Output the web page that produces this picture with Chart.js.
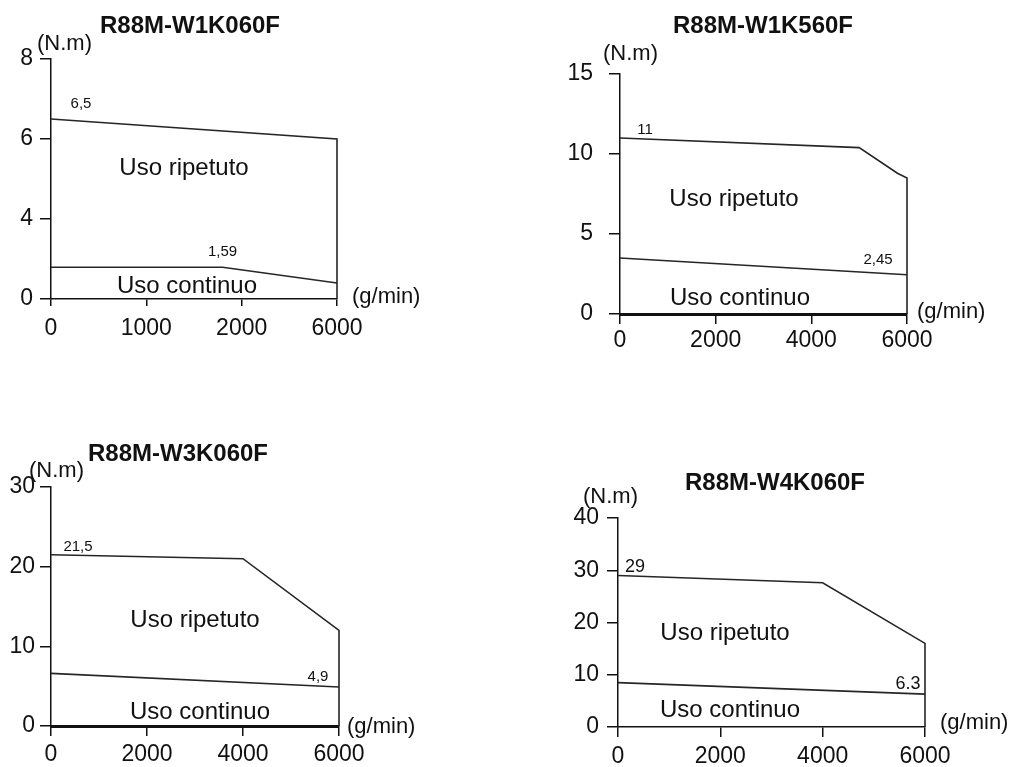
<!DOCTYPE html>
<html>
<head>
<meta charset="utf-8">
<title>Curve coppia-velocità</title>
<script src="https://cdn.jsdelivr.net/npm/chart.js@4.4.1/dist/chart.umd.min.js"></script>
<style>
  html, body { margin: 0; padding: 0; background: #ffffff; }
  #board { position: relative; width: 1014px; height: 767px; overflow: hidden; }
  #board canvas { position: absolute; left: 0; top: 0; }
</style>
</head>
<body>
<div id="board">
  <canvas id="panelA" width="1014" height="767"></canvas>
  <canvas id="panelB" width="1014" height="767"></canvas>
  <canvas id="panelC" width="1014" height="767"></canvas>
  <canvas id="panelD" width="1014" height="767"></canvas>
</div>
<script>
// Torque (N.m) versus speed (g/min) for four servomotors.
const modelNames = ['R88M-W1K060F', 'R88M-W1K560F', 'R88M-W3K060F', 'R88M-W4K060F'];
const zoneNames = ['Uso ripetuto', 'Uso continuo'];
const torqueUnit = '(N.m)';
const speedUnit = '(g/min)';

// R88M-W1K060F
const speedTicksA = [0, 1000, 2000, 6000];
const torqueTicksA = [0, 4, 6, 8];
const repeatedSpeedA = [0, 6000, 6000];
const repeatedTorqueA = [6.5, 6.0, 0];
const continuousSpeedA = [0, 1800, 6000];
const continuousTorqueA = [1.59, 1.59, 0.8];

// R88M-W1K560F
const speedTicksB = [0, 2000, 4000, 6000];
const torqueTicksB = [0, 5, 10, 15];
const repeatedSpeedB = [0, 5000, 5800, 6000, 6000];
const repeatedTorqueB = [11, 10.4, 8.8, 8.5, 0];
const continuousSpeedB = [0, 6000];
const continuousTorqueB = [3.5, 2.45];

// R88M-W3K060F
const speedTicksC = [0, 2000, 4000, 6000];
const torqueTicksC = [0, 10, 20, 30];
const repeatedSpeedC = [0, 4000, 6000, 6000];
const repeatedTorqueC = [21.5, 21, 12, 0];
const continuousSpeedC = [0, 6000];
const continuousTorqueC = [6.6, 4.9];

// R88M-W4K060F
const speedTicksD = [0, 2000, 4000, 6000];
const torqueTicksD = [0, 10, 20, 30, 40];
const repeatedSpeedD = [0, 4000, 6000, 6000];
const repeatedTorqueD = [29, 27.6, 16, 0];
const continuousSpeedD = [0, 6000];
const continuousTorqueD = [8.5, 6.3];

// Axis whose listed tick values are spaced evenly; values in between are
// placed linearly inside their own interval.
class SteppedScale extends Chart.LinearScale {
  static id = 'stepped';
  static defaults = { ticks: { callback: (v) => String(v) } };
  determineDataLimits() {
    const s = this.options.stops;
    this.min = s[0];
    this.max = s[s.length - 1];
  }
  buildTicks() {
    return this.options.stops.map((value) => ({ value }));
  }
  getPixelForValue(value) {
    if (value === null || value === undefined || isNaN(value)) return NaN;
    const s = this.options.stops;
    const n = s.length - 1;
    let i = 0;
    while (i < n - 1 && value > s[i + 1]) i++;
    const f = (i + (value - s[i]) / (s[i + 1] - s[i])) / n;
    return this.getPixelForDecimal(f);
  }
  getValueForPixel(pixel) {
    const s = this.options.stops;
    const n = s.length - 1;
    const d = this.getDecimalForPixel(pixel) * n;
    const i = Math.min(Math.max(Math.floor(d), 0), n - 1);
    return s[i] + (d - i) * (s[i + 1] - s[i]);
  }
}
Chart.register(SteppedScale);

const FONT = '"Liberation Sans", Arial, Helvetica, sans-serif';
const INK = '#111111';
const LINE = '#262626';

// Titles, unit names, zone names and value labels
const panelText = {
  id: 'panelText',
  afterDraw(chart, args, opts) {
    const ctx = chart.ctx;
    ctx.save();
    ctx.fillStyle = INK;
    ctx.textBaseline = 'alphabetic';

    ctx.font = 'bold 24px ' + FONT;
    ctx.textAlign = 'center';
    ctx.fillText(opts.title, opts.titleAt[0], opts.titleAt[1]);

    ctx.font = '22px ' + FONT;
    ctx.textAlign = 'left';
    ctx.fillText(torqueUnit, opts.torqueUnitAt[0], opts.torqueUnitAt[1]);
    ctx.fillText(speedUnit, opts.speedUnitAt[0], opts.speedUnitAt[1]);

    ctx.font = '24px ' + FONT;
    ctx.textAlign = 'center';
    ctx.fillText(zoneNames[0], opts.repeatedAt[0], opts.repeatedAt[1]);
    ctx.fillText(zoneNames[1], opts.continuousAt[0], opts.continuousAt[1]);

    ctx.font = opts.noteSize + 'px ' + FONT;
    for (const note of opts.notes) {
      const pt = chart.getDatasetMeta(note.dataset).data[note.index];
      const value = chart.data.datasets[note.dataset].data[note.index].y;
      const text = String(value).replace('.', opts.decimal);
      ctx.fillText(text, pt.x + note.dx, pt.y + note.dy);
    }
    ctx.restore();
  }
};

function toPoints(speeds, torques) {
  return speeds.map((s, i) => ({ x: s, y: torques[i] }));
}

function drawPanel(p) {
  const yWidth = Math.min(p.left, 70);
  const xHeight = 40;
  const lineStyle = {
    borderColor: LINE,
    borderWidth: 1.6,
    pointRadius: 0,
    tension: 0,
    fill: false,
    clip: false
  };
  new Chart(document.getElementById(p.canvas), {
    type: 'line',
    data: {
      datasets: [
        Object.assign({ label: zoneNames[0], data: toPoints(p.repSpeed, p.repTorque) }, lineStyle),
        Object.assign({ label: zoneNames[1], data: toPoints(p.contSpeed, p.contTorque) }, lineStyle)
      ]
    },
    options: {
      responsive: false,
      animation: false,
      events: [],
      devicePixelRatio: 1,
      layout: {
        padding: {
          left: p.left - yWidth,
          top: p.top,
          right: 1014 - p.right,
          bottom: Math.max(0, 767 - p.bottom - xHeight)
        }
      },
      scales: {
        x: {
          type: 'stepped',
          stops: p.speedTicks,
          position: 'bottom',
          border: { display: true, color: INK, width: p.baseWidth },
          grid: { drawOnChartArea: false, drawTicks: true, tickLength: p.xTickLen, color: INK, lineWidth: 1.5 },
          ticks: { color: INK, font: { family: FONT, size: 23 }, padding: p.xTickPad, maxRotation: 0, autoSkip: false },
          afterFit: (scale) => { scale.height = xHeight; }
        },
        y: {
          type: 'stepped',
          stops: p.torqueTicks,
          position: 'left',
          border: { display: true, color: INK, width: 1.5 },
          grid: { drawOnChartArea: false, drawTicks: true, tickLength: 11, color: INK, lineWidth: 1.5 },
          ticks: { color: INK, font: { family: FONT, size: 23 }, padding: p.yTickPad, autoSkip: false },
          afterFit: (scale) => { scale.width = yWidth; }
        }
      },
      plugins: {
        legend: { display: false },
        tooltip: { enabled: false },
        panelText: {
          title: p.title,
          titleAt: p.titleAt,
          torqueUnitAt: p.torqueUnitAt,
          speedUnitAt: p.speedUnitAt,
          repeatedAt: p.repeatedAt,
          continuousAt: p.continuousAt,
          noteSize: p.noteSize,
          decimal: p.decimal,
          notes: p.notes
        }
      }
    },
    plugins: [panelText]
  });
}

drawPanel({
  canvas: 'panelA', title: modelNames[0],
  speedTicks: speedTicksA, torqueTicks: torqueTicksA,
  repSpeed: repeatedSpeedA, repTorque: repeatedTorqueA,
  contSpeed: continuousSpeedA, contTorque: continuousTorqueA,
  left: 51, right: 337, top: 59, bottom: 299,
  baseWidth: 1.5, xTickLen: 7, xTickPad: 9, yTickPad: 7,
  titleAt: [190, 33], torqueUnitAt: [37, 50], speedUnitAt: [352, 303],
  repeatedAt: [184, 175], continuousAt: [187, 293],
  noteSize: 15, decimal: ',',
  notes: [ { dataset: 0, index: 0, dx: 30, dy: -11 }, { dataset: 1, index: 1, dx: 0, dy: -11 } ]
});

drawPanel({
  canvas: 'panelB', title: modelNames[1],
  speedTicks: speedTicksB, torqueTicks: torqueTicksB,
  repSpeed: repeatedSpeedB, repTorque: repeatedTorqueB,
  contSpeed: continuousSpeedB, contTorque: continuousTorqueB,
  left: 620, right: 907, top: 74, bottom: 314,
  baseWidth: 3, xTickLen: 10, xTickPad: 3, yTickPad: 16,
  titleAt: [763, 33], torqueUnitAt: [603, 60], speedUnitAt: [917, 318],
  repeatedAt: [734, 206], continuousAt: [740, 305],
  noteSize: 15, decimal: ',',
  notes: [ { dataset: 0, index: 0, dx: 25, dy: -4 }, { dataset: 1, index: 1, dx: -29, dy: -11 } ]
});

drawPanel({
  canvas: 'panelC', title: modelNames[2],
  speedTicks: speedTicksC, torqueTicks: torqueTicksC,
  repSpeed: repeatedSpeedC, repTorque: repeatedTorqueC,
  contSpeed: continuousSpeedC, contTorque: continuousTorqueC,
  left: 51, right: 339, top: 487, bottom: 726,
  baseWidth: 3, xTickLen: 10, xTickPad: 5, yTickPad: 5,
  titleAt: [178, 461], torqueUnitAt: [29, 477], speedUnitAt: [347, 733],
  repeatedAt: [195, 627], continuousAt: [200, 719],
  noteSize: 15, decimal: ',',
  notes: [ { dataset: 0, index: 0, dx: 27, dy: -4 }, { dataset: 1, index: 1, dx: -21, dy: -6 } ]
});

drawPanel({
  canvas: 'panelD', title: modelNames[3],
  speedTicks: speedTicksD, torqueTicks: torqueTicksD,
  repSpeed: repeatedSpeedD, repTorque: repeatedTorqueD,
  contSpeed: continuousSpeedD, contTorque: continuousTorqueD,
  left: 618, right: 925, top: 518, bottom: 727,
  baseWidth: 1.5, xTickLen: 10, xTickPad: 6, yTickPad: 8,
  titleAt: [775, 490], torqueUnitAt: [583, 503], speedUnitAt: [940, 729],
  repeatedAt: [725, 640], continuousAt: [730, 717],
  noteSize: 18, decimal: '.',
  notes: [ { dataset: 0, index: 0, dx: 17, dy: -3 }, { dataset: 1, index: 1, dx: -17, dy: -5 } ]
});
</script>
</body>
</html>
